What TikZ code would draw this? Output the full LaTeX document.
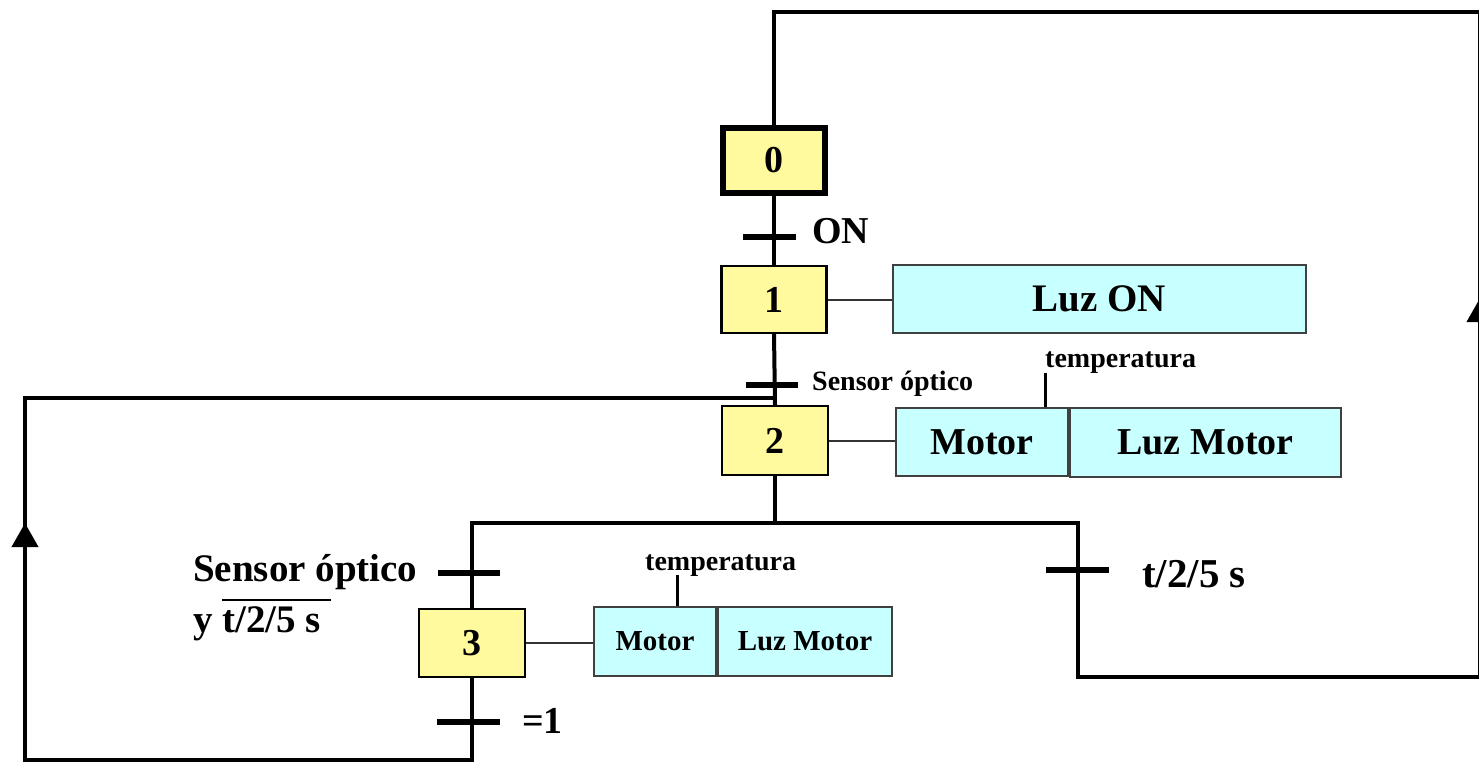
\documentclass[tikz,border=0pt]{standalone}
\usepackage{fontspec}
\setmainfont{Liberation Serif}
\usetikzlibrary{arrows.meta}
\definecolor{stepyel}{RGB}{255,250,158}
\definecolor{actcyan}{RGB}{200,255,255}
\newcommand{\fsz}[1]{\fontsize{#1}{#1}\selectfont\bfseries}
\newcommand{\ovl}[1]{\vbox{\hrule height 2.6pt \kern 5pt \hbox{#1}}}
\begin{document}
\begin{tikzpicture}[x=1pt,y=-1pt,
  stepbox/.style={draw, fill=stepyel, line width=2.2pt, inner sep=0pt,
    minimum width=105pt, minimum height=67pt, font=\fsz{38}},
  initstep/.style={stepbox, line width=6pt, minimum width=102pt, minimum height=65pt},
  actbox/.style={draw=black!75, fill=actcyan, line width=1.6pt, inner sep=0pt,
    minimum height=68.5pt},
  flow/.style={line width=4pt, line join=miter},
  link/.style={line width=2pt, draw=black!80},
  tick/.style={line width=3pt},
  tbar/.style={fill=black, inner sep=0pt, minimum height=5.5pt},
  lbl/.style={inner sep=0pt, font=\fsz{#1}},
  uparrow/.style={line width=4pt, -{Triangle[length=24pt,width=26pt]}},
]
\useasboundingbox (0,0) rectangle (1479,763);
\clip (0,0) rectangle (1479,763);

% steps
\node[initstep] (s0) at (774,160.5) {0};
\node[stepbox] (s1) at (774,299.5) {1};
\node[stepbox, minimum width=106pt, minimum height=69pt] (s2) at (775,440.5) {2};
\node[stepbox, minimum width=106pt, minimum height=68pt] (s3) at (472,643) {3};

% actions
\node[actbox, minimum width=413pt, font=\fsz{39}] (a1) at (1099.5,299) {Luz ON};
\node[actbox, minimum width=172pt, font=\fsz{38}] (a2m) at (982,442) {Motor};
\node[actbox, minimum width=271pt, font=\fsz{38}] (a2l) at (1205.5,442.5) {Luz Motor};
\node[actbox, minimum width=122pt, minimum height=69.5pt, font=\fsz{29}] (a3m) at (655,641.5) {Motor};
\node[actbox, minimum width=174pt, minimum height=69.5pt, font=\fsz{29}] (a3l) at (805,641.5) {Luz Motor};

\draw[link] (s1.east) -- (s1.east -| a1.west);
\draw[link] (s2.east) -- (s2.east -| a2m.west);
\draw[link] (s3.east) -- (s3.east -| a3m.west);

% temperatura labels
\draw[tick] ([xshift=63pt]a2m.north) -- ++(0,-34) coordinate (tk2);
\node[lbl=28, anchor=base west] (temp2) at (1045,367) {temperatura};
\draw[tick] ([xshift=22pt]a3m.north) -- ++(0,-31) coordinate (tk3);
\node[lbl=28, anchor=base west] (temp3) at (645,570) {temperatura};

% transitions
\node[tbar, minimum width=53pt] (t01) at (769,237) {};
\node[tbar, minimum width=52pt] (t12) at (772,385) {};
\node[tbar, minimum width=62pt] (t23) at (469,573) {};
\node[tbar, minimum width=63pt] (t30) at (468.5,722) {};
\node[tbar, minimum width=63pt] (t20) at (1077.5,570) {};

\node[lbl=38, anchor=base west] (l01) at (812,243) {ON};
\node[lbl=28, anchor=base west] (l12) at (812,390) {Sensor óptico};
\node[lbl=39, anchor=base west] (l23a) at (193,581) {Sensor óptico};
\node[lbl=39, anchor=base west] (l23b) at (193,632) {y \ovl{t/2/5 s\ }};
\node[lbl=38, anchor=base west] (l30) at (522,733) {=1};
\node[lbl=41, anchor=base west] (l20) at (1142,587) {t/2/5 s};

% flow lines
\coordinate (dvy) at (0,523);
\draw[flow] (s0.south) -- (s1.north);
\draw[flow] (s1.south) -- (s2.north);
\draw[flow] (s2.south) -- (s2.south |- dvy);
\draw[flow] (s3.north) -- (s3.north |- dvy) -- (1078,523) -- (1078,677)
  -- (1480,677) -- (1480,12) -- (s0.north |- 0,12) -- (s0.north);
\draw[flow] (s3.south) -- (s3.south |- 0,760) -- (25,760) -- (25,398)
  -- (s1.south |- 0,398);

% arrows on loops
\draw[uparrow] (25,560) -- (25,523);
\draw[uparrow] (1480,340) -- (1480,298);
\end{tikzpicture}
\end{document}
